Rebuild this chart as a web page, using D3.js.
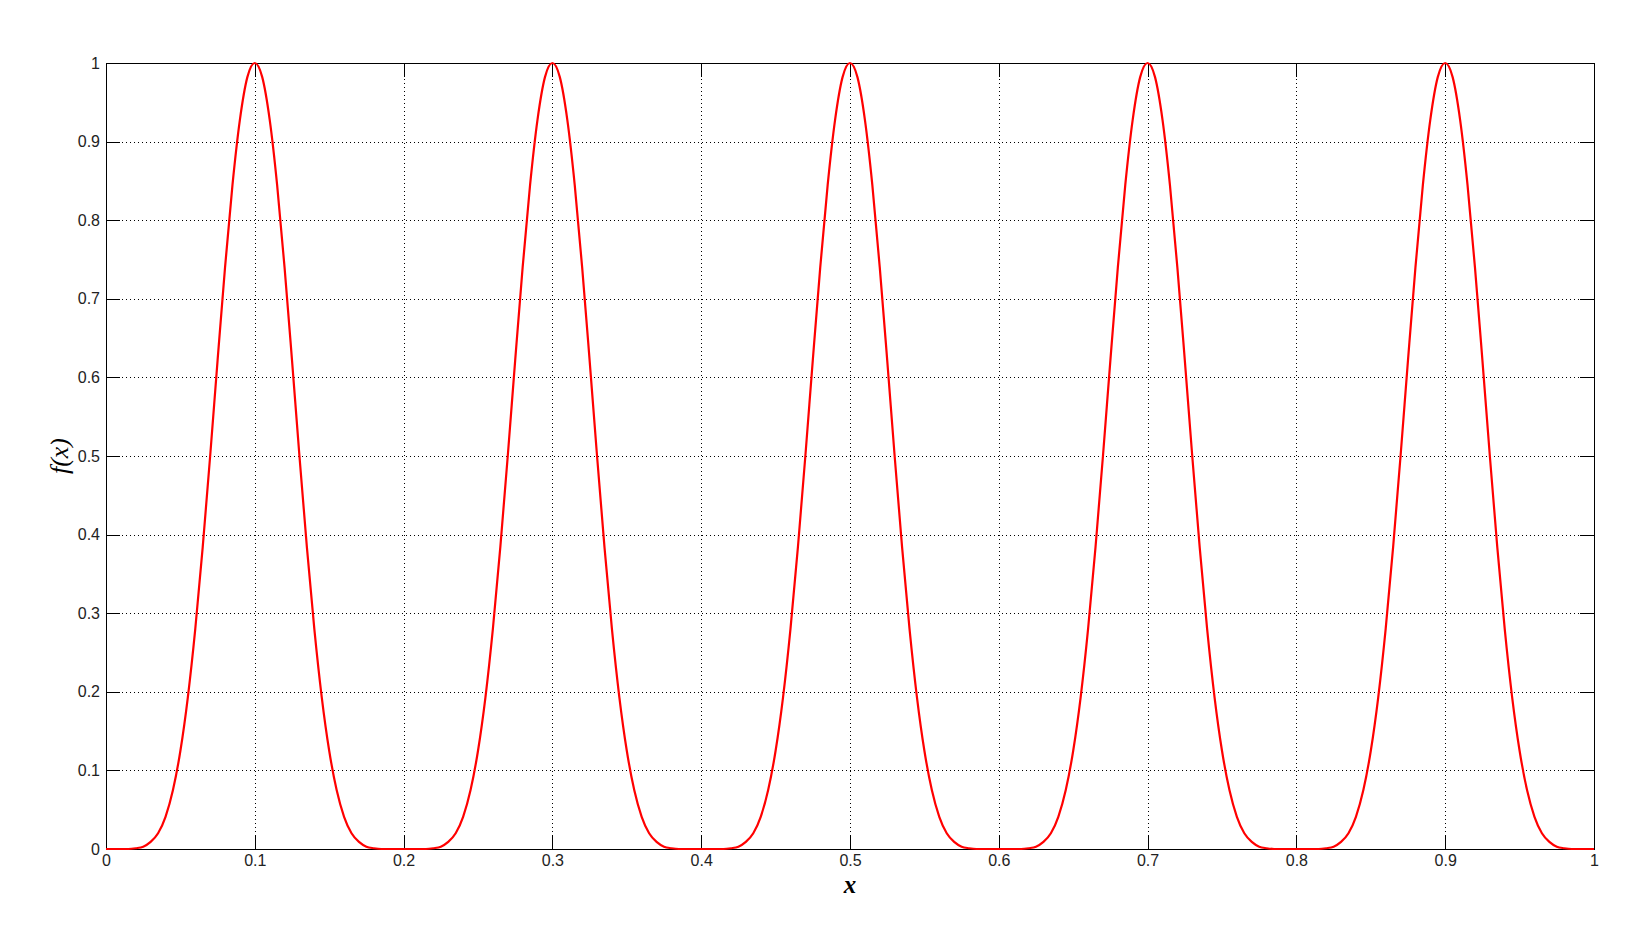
<!DOCTYPE html>
<html>
<head>
<meta charset="utf-8">
<script src="https://cdn.jsdelivr.net/npm/d3@7"></script>
<style>
  body { margin: 0; background: #fff; }
  .tick text { font-family: "Liberation Sans", Arial, Helvetica, sans-serif; font-size: 16px; fill: #222; }
  .axis path, .axis line { stroke: #000; }
</style>
</head>
<body>
<svg id="chart"></svg>
<script>
const step = 0.005;
const fValues = [
  0, 0, 0, 0, 0.001, 0.003, 0.009, 0.020, 0.041, 0.075, 0.125, 0.193, 0.280, 0.384, 0.500, 0.622, 0.740, 0.845, 0.928, 0.982,
  1.000, 0.982, 0.928, 0.845, 0.740, 0.622, 0.500, 0.384, 0.280, 0.193, 0.125, 0.075, 0.041, 0.020, 0.009, 0.003, 0.001, 0, 0, 0,
  0, 0, 0, 0, 0.001, 0.003, 0.009, 0.020, 0.041, 0.075, 0.125, 0.193, 0.280, 0.384, 0.500, 0.622, 0.740, 0.845, 0.928, 0.982,
  1.000, 0.982, 0.928, 0.845, 0.740, 0.622, 0.500, 0.384, 0.280, 0.193, 0.125, 0.075, 0.041, 0.020, 0.009, 0.003, 0.001, 0, 0, 0,
  0, 0, 0, 0, 0.001, 0.003, 0.009, 0.020, 0.041, 0.075, 0.125, 0.193, 0.280, 0.384, 0.500, 0.622, 0.740, 0.845, 0.928, 0.982,
  1.000, 0.982, 0.928, 0.845, 0.740, 0.622, 0.500, 0.384, 0.280, 0.193, 0.125, 0.075, 0.041, 0.020, 0.009, 0.003, 0.001, 0, 0, 0,
  0, 0, 0, 0, 0.001, 0.003, 0.009, 0.020, 0.041, 0.075, 0.125, 0.193, 0.280, 0.384, 0.500, 0.622, 0.740, 0.845, 0.928, 0.982,
  1.000, 0.982, 0.928, 0.845, 0.740, 0.622, 0.500, 0.384, 0.280, 0.193, 0.125, 0.075, 0.041, 0.020, 0.009, 0.003, 0.001, 0, 0, 0,
  0, 0, 0, 0, 0.001, 0.003, 0.009, 0.020, 0.041, 0.075, 0.125, 0.193, 0.280, 0.384, 0.500, 0.622, 0.740, 0.845, 0.928, 0.982,
  1.000, 0.982, 0.928, 0.845, 0.740, 0.622, 0.500, 0.384, 0.280, 0.193, 0.125, 0.075, 0.041, 0.020, 0.009, 0.003, 0.001, 0, 0, 0,
  0
];

const xTicks = [0, 0.1, 0.2, 0.3, 0.4, 0.5, 0.6, 0.7, 0.8, 0.9, 1];
const xTickLabels = ["0", "0.1", "0.2", "0.3", "0.4", "0.5", "0.6", "0.7", "0.8", "0.9", "1"];
const yTicks = [0, 0.1, 0.2, 0.3, 0.4, 0.5, 0.6, 0.7, 0.8, 0.9, 1];
const yTickLabels = ["0", "0.1", "0.2", "0.3", "0.4", "0.5", "0.6", "0.7", "0.8", "0.9", "1"];

const margin = { top: 63, right: 38, bottom: 96, left: 106 };
const W = 1632, H = 945;
const width = W - margin.left - margin.right;
const height = H - margin.top - margin.bottom;

const svg = d3.select("#chart").attr("width", W).attr("height", H);
const g = svg.append("g").attr("transform", `translate(${margin.left},${margin.top})`);

const x = d3.scaleLinear().domain([0, 1]).range([0, width]);
const y = d3.scaleLinear().domain([0, 1]).range([height, 0]);

// dotted grid
const grid = g.append("g").attr("stroke", "#000").attr("stroke-width", 1)
  .attr("stroke-dasharray", "1,3").attr("shape-rendering", "crispEdges");
grid.selectAll(".gx").data(xTicks.slice(1, -1)).join("line")
  .attr("x1", d => Math.round(x(d)) + 0.5).attr("x2", d => Math.round(x(d)) + 0.5)
  .attr("y1", 0).attr("y2", height);
grid.selectAll(".gy").data(yTicks.slice(1, -1)).join("line")
  .attr("y1", d => Math.round(y(d)) + 0.5).attr("y2", d => Math.round(y(d)) + 0.5)
  .attr("x1", 0).attr("x2", width);

// axes, ticks pointing inward like MATLAB
const fmtX = d => xTickLabels[xTicks.indexOf(d)];
const fmtY = d => yTickLabels[yTicks.indexOf(d)];

g.append("g").attr("class", "axis")
  .attr("transform", `translate(0,${height})`)
  .call(d3.axisBottom(x).tickValues(xTicks).tickFormat(fmtX).tickSizeInner(-14).tickSizeOuter(0).tickPadding(6));
g.append("g").attr("class", "axis")
  .call(d3.axisLeft(y).tickValues(yTicks).tickFormat(fmtY).tickSizeInner(-14).tickSizeOuter(0).tickPadding(6));
g.append("g").attr("class", "axis")
  .call(d3.axisTop(x).tickValues(xTicks).tickFormat("").tickSizeInner(-14).tickSizeOuter(0));
g.append("g").attr("class", "axis")
  .attr("transform", `translate(${width},0)`)
  .call(d3.axisRight(y).tickValues(yTicks).tickFormat("").tickSizeInner(-14).tickSizeOuter(0));

g.selectAll(".axis").attr("shape-rendering", "crispEdges");

// the curve
const line = d3.line()
  .x((d, i) => x(i * step))
  .y(d => y(d))
  .curve(d3.curveMonotoneX);

g.append("path")
  .datum(fValues)
  .attr("fill", "none")
  .attr("stroke", "#ff0000")
  .attr("stroke-width", 2.2)
  .attr("d", line);

// axis labels
svg.append("text")
  .attr("x", margin.left + width / 2)
  .attr("y", 893)
  .attr("text-anchor", "middle")
  .style("font-family", "'Liberation Serif', 'Times New Roman', serif")
  .style("font-style", "italic")
  .style("font-weight", "bold")
  .style("font-size", "25px")
  .text("x");

svg.append("text")
  .attr("transform", `translate(68,${margin.top + height / 2}) rotate(-90)`)
  .attr("text-anchor", "middle")
  .style("font-family", "'Liberation Serif', 'Times New Roman', serif")
  .style("font-style", "italic")
  .style("font-size", "26px")
  .text("f(x)");
</script>
</body>
</html>
